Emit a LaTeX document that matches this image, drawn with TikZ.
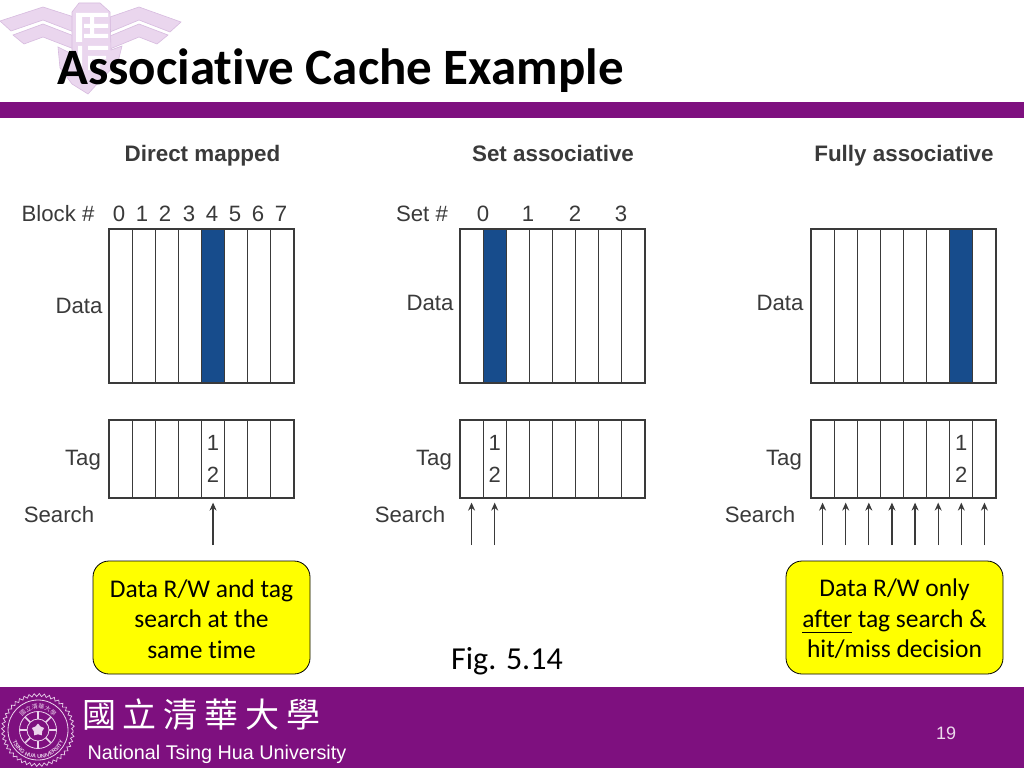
\documentclass[tikz,border=0pt]{standalone}
\usepackage{fontspec}
\setmainfont[Ligatures=NoCommon]{Carlito}
\setsansfont{Liberation Sans}
\newfontfamily\cjk[LetterSpace=20]{Noto Sans CJK TC}
\newfontfamily\cjkseal{Noto Sans CJK TC}
\usetikzlibrary{arrows.meta,positioning,shapes.geometric,decorations.pathmorphing,decorations.text}
\definecolor{nthu}{HTML}{7E107F}
\definecolor{crest}{HTML}{EAD6EE}
\definecolor{crestline}{HTML}{D7BBDF}
\definecolor{seal}{HTML}{EBD3EC}
\definecolor{cellblue}{HTML}{174C8C}
\definecolor{ink}{HTML}{3A3A3A}
\definecolor{note}{HTML}{FFFF00}
\tikzset{
    cell/.style={draw=ink,line width=1.2pt,inner sep=0pt,minimum width=23.125pt},
    datacell/.style={cell,minimum height=154pt},
    tagcell/.style={cell,minimum height=78pt},
    figlabel/.style={anchor=base,font=\sffamily\fontsize{22.2}{24}\selectfont,text=ink,inner sep=0pt},
    figtitle/.style={anchor=base,font=\sffamily\bfseries\fontsize{22.4}{24}\selectfont,text=ink,inner sep=0pt},
    searchline/.style={draw=ink,line width=1.2pt,-{Stealth[length=8pt,width=7pt]},shorten >=4pt},
    callout/.style={draw=black,fill=note,rounded corners=16pt,line width=0.8pt,minimum width=217pt,minimum height=113pt,
        align=center,inner sep=0pt,font=\fontsize{25.5}{30.5}\selectfont},
    crestpart/.style={fill=crest,draw=crestline,line width=0.6pt}
}
% one cache: name, left edge, filled column, x of the labels, base of Data
\newcommand{\cacheblock}[5]{
    \foreach \i in {0,...,7}{
        \node[datacell] (#1data\i) at ({#2+23.125*(\i+0.5)},306) {};
        \node[tagcell] (#1tag\i) at ({#2+23.125*(\i+0.5)},459) {};
    }
    \node[datacell,fill=cellblue] at (#1data#3) {};
    \node[font=\sffamily\fontsize{22}{32}\selectfont,text=ink,align=center,inner sep=0pt] at (#1tag#3) {1\\2};
    \node[figlabel] (#1datalabel) at (#4+20,#5) {Data};
    \node[figlabel] (#1taglabel) at (#4+24,465) {Tag};
    \node[figlabel] (#1searchlabel) at (#4,522) {Search};
}
\newcommand{\lowline}[1]{\underline{#1\rule[-3pt]{0pt}{1pt}}}
\begin{document}
\begin{tikzpicture}[x=1pt,y=-1pt]
    \useasboundingbox[fill=white] (0,0) rectangle (1024,768);

    % crest behind the title
    \draw[crestpart] (0,21) -- (43,7) -- (74,17) -- (74,32) -- (43,20) -- (11,31) -- cycle;
    \draw[crestpart] (13,35) -- (43,24) -- (74,36) -- (74,49) -- (43,37) -- (24,44) -- cycle;
    \draw[crestpart] (181,22) -- (139,7) -- (110,17) -- (110,32) -- (139,20) -- (170,32) -- cycle;
    \draw[crestpart] (168,35) -- (139,24) -- (110,36) -- (110,49) -- (139,37) -- (157,44) -- cycle;
    \draw[crestpart] (72,12) -- (79,3) -- (100,3) -- (110,12) -- (111,50) -- (122,46) -- (118,62) -- (98,83) -- (88,94)
        -- (72,84) -- (60,68) -- (58,47) -- (72,54) -- cycle;
    \fill[white] (76,13) rectangle (82,42) (76,13) rectangle (108,17) (90,13) rectangle (94,38)
        (84,24) rectangle (108,28) (84,34) rectangle (108,38) (78,46) rectangle (82,70) (88,46) rectangle (108,50)
        (88,56) rectangle (92,70) (96,56) rectangle (100,68) (88,56) rectangle (106,59);

    % bars
    \fill[nthu] (0,102) rectangle (1024,118);
    \fill[nthu] (0,687) rectangle (1024,768);
    \node[anchor=base west,inner sep=0pt,font=\bfseries\fontsize{51}{54}\selectfont] (title) at (57,84) {Associative Cache Example};

    % the three caches
    \cacheblock{dm}{109}{4}{59}{313}
    \cacheblock{sa}{460}{1}{410}{310}
    \cacheblock{fa}{811}{6}{760}{310}

    \node[figtitle] (dmtitle) at (202.5,161) {Direct mapped};
    \node[figtitle] (satitle) at (553,161) {Set associative};
    \node[figtitle] (fatitle) at (904,161) {Fully associative};

    \node[figlabel] (blocklabel) at (58,221) {Block \#};
    \foreach \i/\x in {0/119,1/142,2/165,3/189,4/212,5/235,6/258,7/281}
        \node[figlabel] (block\i) at (\x,221) {\i};
    \node[figlabel] (setlabel) at (422,221) {Set \#};
    \foreach \i/\x in {0/483,1/528,2/575,3/621}
        \node[figlabel] (set\i) at (\x,221) {\i};

    % search arrows
    \coordinate (dmfrom4) at (dmtag4 |- 0,545);
    \draw[searchline] (dmfrom4) -- (dmtag4.south);
    \foreach \i in {0,1}{
        \coordinate (safrom\i) at (satag\i |- 0,545);
        \draw[searchline] (safrom\i) -- (satag\i.south);
    }
    \foreach \i in {0,...,7}{
        \coordinate (fafrom\i) at (fatag\i |- 0,545);
        \draw[searchline] (fafrom\i) -- (fatag\i.south);
    }

    % notes
    \node[callout] (dmnote) at (201.5,617.5) {\rule{0pt}{21pt}Data R/W and tag\\search at the\\same time};
    \node[callout] (fanote) at (894.5,617.5) {\rule{0pt}{21pt}Data R/W only\\\lowline{after} tag search \&\\hit/miss decision};
    \node[font=\fontsize{32}{36}\selectfont,inner sep=0pt] (figref) at (507,661) {Fig. 5.14};

    % footer
    \draw[seal,line width=0.7pt,decorate,decoration={zigzag,segment length=5pt,amplitude=1.5pt}] (38,730) circle (35pt);
    \draw[seal,line width=0.8pt] (38,730) circle (30pt);
    \draw[seal,line width=0.8pt] (38,730) circle (18.5pt);
    \draw[seal,line width=0.8pt] (38,730) circle (11pt);
    \foreach \a in {0,45,...,315}
        \draw[seal,line width=1.6pt] (38,730) ++(\a:11pt) -- ++(\a:7pt);
    \node[star,star points=5,fill=seal,inner sep=0pt,minimum size=13pt] (sealstar) at (38,730) {};
    \path[decorate,decoration={text along path,text align=center,
        text={|\sffamily\bfseries\fontsize{5.5}{6}\selectfont\color{seal}|TSING HUA UNIVERSITY}}]
        (11,735) .. controls (15,766) and (61,766) .. (65,735);
    \path[decorate,decoration={text along path,text align=center,
        text={|\cjkseal\fontsize{6}{6}\selectfont\color{seal}|國立清華大學}}]
        (18,727) .. controls (22,703) and (54,703) .. (58,727);
    \node[anchor=west,inner sep=0pt,text=white,font=\cjk\fontsize{34}{38}\selectfont] (nthuname) at (82,715) {國立清華大學};
    \node[anchor=base west,inner sep=0pt,text=white,font=\sffamily\fontsize{19.8}{22}\selectfont] (nthuen) at (87.5,759) {National Tsing Hua University};
    \node[inner sep=0pt,text=white!85!nthu,font=\sffamily\fontsize{18}{20}\selectfont] (pagenum) at (946,733) {19};
\end{tikzpicture}
\end{document}
